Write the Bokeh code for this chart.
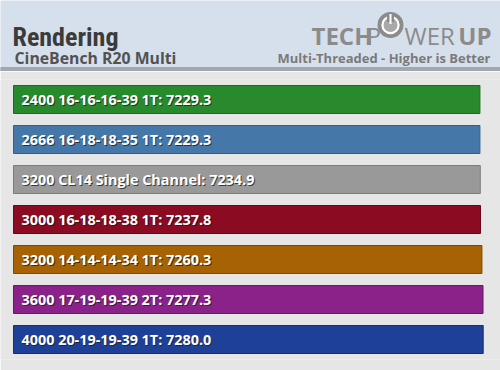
from bokeh.plotting import figure
from bokeh.models import Range1d, FactorRange, ColumnDataSource
from bokeh.layouts import column
from bokeh.embed import file_html
from bokeh.resources import INLINE
from bokeh.core.properties import value

# ---- data ----
labels = [
    "2400 16-16-16-39 1T",
    "2666 16-18-18-35 1T",
    "3200 CL14 Single Channel",
    "3000 16-18-18-38 1T",
    "3200 14-14-14-34 1T",
    "3600 17-19-19-39 2T",
    "4000 20-19-19-39 1T",
]
scores = [7229.3, 7229.3, 7234.9, 7237.8, 7260.3, 7277.3, 7280.0]

title = "Rendering"
subtitle = "CineBench R20 Multi"
tagline = "Multi-Threaded - Higher is Better"

# ---- styles ----
fills = ["#288a2d", "#4577a9", "#999999", "#8b0b22", "#a66203", "#8a2289", "#1f4097"]
edges = ["#1d6a21", "#345e88", "#7c7c7c", "#6a0617", "#7f4a00", "#6a186a", "#152f75"]
FONT = "Open Sans"
COND = "Roboto Condensed, DejaVu Sans Condensed"

W = 500
HEAD_H = 71
BODY_H = 299

# ---- header ----
h = figure(width=W, height=HEAD_H, x_range=Range1d(0, W), y_range=Range1d(HEAD_H, 0),
           output_backend="svg", toolbar_location=None, min_border=0)
h.axis.visible = False
h.grid.visible = False
h.outline_line_color = None
h.background_fill_color = "#d6e0ec"
h.border_fill_color = "#d6e0ec"
h.quad(left=[0], right=[W], top=[HEAD_H - 4], bottom=[HEAD_H], color="#a2a7b2")

h.text(x=[12], y=[36], text=[title], text_font=value(COND),
       text_font_style="bold", text_font_size="26px", text_color="#3b3b3b",
       text_baseline="alphabetic")
h.text(x=[14], y=[57], text=[subtitle], text_font=value(FONT),
       text_font_style="bold", text_font_size="15.8px", text_color="#525252",
       text_baseline="alphabetic")
h.text(x=[490], y=[57], text=[tagline], text_font=value(FONT),
       text_font_style="bold", text_font_size="13px", text_color="#7a7a7a",
       text_align="right", text_baseline="alphabetic")

logo_col = "#8b8b8b"
h.text(x=[311], y=[35], text=["TECH"], text_font=value(FONT), text_font_style="bold",
       text_font_size="24px", text_color=logo_col, text_baseline="alphabetic")
h.text(x=[366], y=[35], text=["P"], text_font=value(FONT), text_font_style="normal",
       text_font_size="24px", text_color=logo_col, text_baseline="alphabetic")
h.circle(x=[390], y=[24.5], radius=13, fill_color=logo_col, line_color=None)
h.circle(x=[390], y=[24.5], radius=8, fill_color="#a9a9a9", line_color=None)
h.annulus(x=[390], y=[24.5], inner_radius=7, outer_radius=9.2, fill_color="white", line_color=None)
h.quad(left=[386.5], right=[393.5], top=[13.5], bottom=[21.5], fill_color=logo_col, line_color=None)
h.quad(left=[389], right=[391], top=[13.5], bottom=[23.5], fill_color="white", line_color=None)
h.text(x=[404], y=[35], text=["WER"], text_font=value(FONT), text_font_style="normal",
       text_font_size="24px", text_color=logo_col, text_baseline="alphabetic")
h.text(x=[491], y=[35], text=["UP"], text_font=value(FONT), text_font_style="bold",
       text_font_size="24px", text_color=logo_col, text_align="right",
       text_baseline="alphabetic")

# ---- body ----
src = ColumnDataSource(dict(
    label=labels,
    score=scores,
    txt=[f"{l}: {s:.1f}" for l, s in zip(labels, scores)],
    fill=fills,
    edge=edges,
))

# bars start 13px from the left edge; the longest bar spans ~470px
px_per_unit = 469.7 / max(scores)
b = figure(width=W, height=BODY_H, y_range=FactorRange(*reversed(labels)),
           x_range=Range1d(-13 / px_per_unit, (W - 13) / px_per_unit),
           output_backend="svg", toolbar_location=None,
           min_border_left=0, min_border_right=0, min_border_top=8, min_border_bottom=11)
b.axis.visible = False
b.grid.visible = False
b.outline_line_color = None
b.background_fill_color = "#e6e6e6"
b.border_fill_color = "#e6e6e6"

b.hbar(y="label", left=0, right="score", height=0.7, source=src,
       fill_color="fill", line_color="edge", line_width=1)
b.text(x=0, y="label", text="txt", source=src, x_offset=9, y_offset=1,
       text_font=value(FONT), text_font_style="bold", text_font_size="14.4px",
       text_color="#1a1a1a", text_alpha=0.75, text_baseline="middle")
b.text(x=0, y="label", text="txt", source=src, x_offset=8, y_offset=0,
       text_font=value(FONT), text_font_style="bold", text_font_size="14.4px",
       text_color="white", text_baseline="middle")

p = column(h, b, spacing=0)
open("out.html", "w").write(file_html(p, INLINE))
